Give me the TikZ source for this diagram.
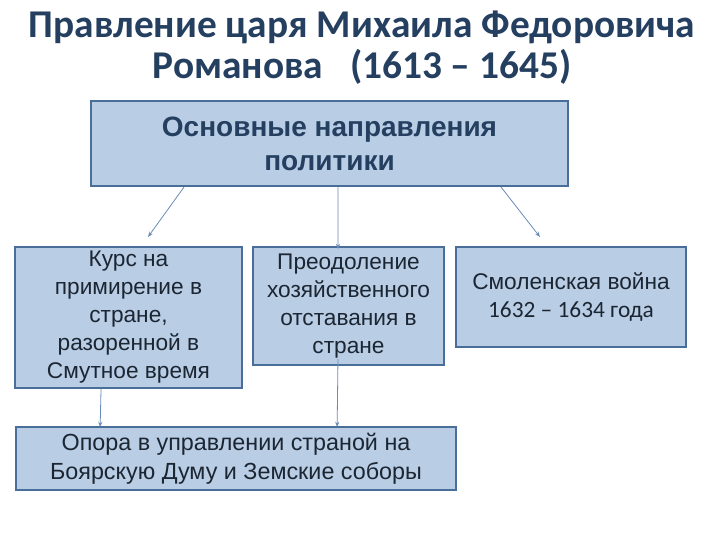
\documentclass[tikz,border=0pt]{standalone}
\usepackage{fontspec}
\setmainfont{Liberation Sans}
\newfontfamily\calibfont{Carlito}
\usetikzlibrary{arrows.meta}
\definecolor{boxfill}{HTML}{B9CDE5}
\definecolor{boxline}{HTML}{4A6E9A}
\definecolor{arrline}{HTML}{6A8CB8}
\definecolor{titleblue}{HTML}{243F60}
\definecolor{textdark}{HTML}{1C2633}
\begin{document}
\begin{tikzpicture}[x=0.75pt,y=0.75pt,yscale=-1,xscale=1,
  box/.style={draw=boxline,line width=1.3pt,fill=boxfill,align=center,inner sep=0pt,
    text=textdark,font=\fontsize{17}{21}\selectfont},
  arr/.style={draw=arrline,line width=0.6pt,-{Stealth[length=4pt,width=3pt]}}]
%set diagram to 720 x 540
\useasboundingbox (0,0) rectangle (720,540);
\fill[white] (0,0) rectangle (720,540);

% Title
\node (title) at (362,48) [text=titleblue,align=center,font=\calibfont\bfseries\fontsize{29.5}{30.5}\selectfont] {Правление царя Михаила Федоровича\\Романова \ \ (1613 – 1645)};

%Shape: Rectangle [main]
\node (main) at (329.5,143.5) [box,minimum width=357.75pt,minimum height=63.75pt,font=\bfseries\fontsize{21}{25.5}\selectfont,text=titleblue] {Основные направления\\политики};
%Shape: Rectangle [kurs]
\node (kurs) at (128.5,317.5) [box,minimum width=170.25pt,minimum height=105.75pt] {Курс на\\примирение в\\стране,\\разоренной в\\Смутное время};
%Shape: Rectangle [preod]
\node (preod) at (348.5,306) [box,minimum width=143.25pt,minimum height=88.5pt] {Преодоление\\хозяйственного\\отставания в\\стране};
%Shape: Rectangle [smol]
\node (smol) at (571,297) [box,minimum width=172.5pt,minimum height=75pt] {Смоленская война\\{\calibfont\fontsize{17.5}{21}\selectfont 1632 – 1634 года}};
%Shape: Rectangle [opora]
\node (opora) at (236,458.5) [box,minimum width=330pt,minimum height=47.25pt,font=\fontsize{17.5}{21.5}\selectfont] {Опора в управлении страной на\\Боярскую Думу и Земские соборы};

% free arrow ends
\coordinate (kursend) at (148,237);
\coordinate (smolend) at (540,237);

%Arrows
\draw[arr] ([xshift=70.5pt]main.south west) -- (kursend);
\draw[arr] ([xshift=6.4pt]main.south) -- ([xshift=-7.9pt,yshift=2.25pt]preod.north);
\draw[arr] ([xshift=-51pt]main.south east) -- (smolend);
\draw[arr] ([xshift=-20.6pt]kurs.south) -- ([xshift=63.75pt,yshift=0.75pt]opora.north west);
\draw[arr] ([xshift=-7.9pt,yshift=-5pt]preod.south) -- ([xshift=241.5pt,yshift=0.75pt]opora.north west);

\end{tikzpicture}
\end{document}
